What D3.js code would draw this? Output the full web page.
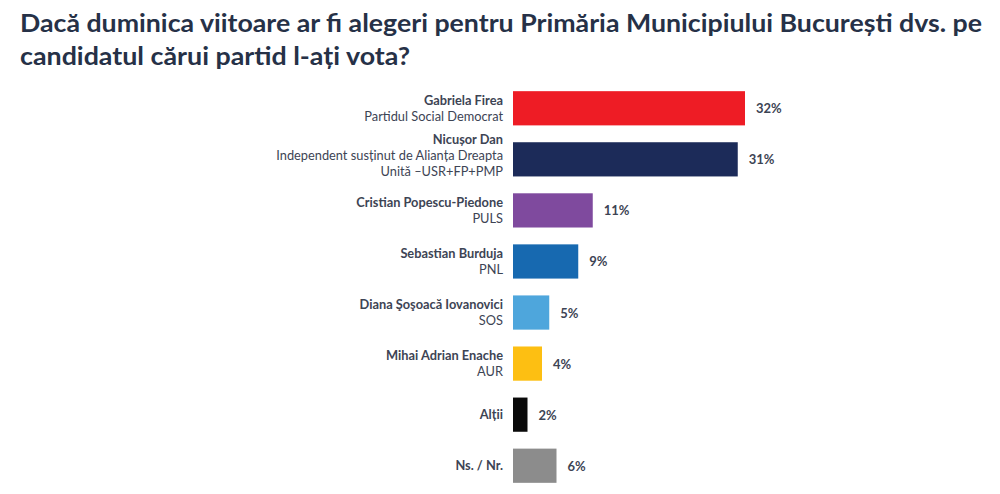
<!DOCTYPE html>
<html><head><meta charset="utf-8">
<script src="https://cdn.jsdelivr.net/npm/d3@7"></script>
<style>body{margin:0;background:#fff;font-family:Lato,sans-serif}</style>
</head><body><svg id="c" width="1000" height="494"></svg>
<script>
const names = ["Gabriela Firea","Nicușor Dan","Cristian Popescu-Piedone","Sebastian Burduja","Diana Şoşoacă Iovanovici","Mihai Adrian Enache","Alții","Ns. / Nr."];
const parties = [["Partidul Social Democrat"],["Independent susținut de Alianța Dreapta","Unită –USR+FP+PMP"],["PULS"],["PNL"],["SOS"],["AUR"],[],[]];
const values = [32,31,11,9,5,4,2,6];
const colors = ["#ee1c25","#1c2b59","#7f4a9e","#1769b0","#4ea6dc","#fdbf12","#0a0a0a","#8c8c8c"];

const svg = d3.select("#c");
const ink = "#3d4454";

svg.append("text").attr("x",20).attr("y",32).attr("fill","#263147")
  .attr("textLength",962).attr("lengthAdjust","spacingAndGlyphs")
  .style("font-weight",700).style("font-size","25px")
  .text("Dacă duminica viitoare ar fi alegeri pentru Primăria Municipiului București dvs. pe");
svg.append("text").attr("x",20).attr("y",65).attr("fill","#263147")
  .attr("textLength",390).attr("lengthAdjust","spacingAndGlyphs")
  .style("font-weight",700).style("font-size","25px")
  .text("candidatul cărui partid l-ați vota?");

const x = d3.scaleLinear().domain([0,32]).range([513,745]);
const y = d3.scaleBand().domain(d3.range(names.length)).range([83,491]).paddingInner(0.33).paddingOuter(0.16);

const g = svg.selectAll("g.row").data(names).join("g").attr("class","row");
g.append("rect").attr("x",x(0)).attr("y",(d,i)=>y(i))
  .attr("width",(d,i)=>x(values[i])-x(0)).attr("height",y.bandwidth())
  .attr("fill",(d,i)=>colors[i]);
g.append("text").attr("x",(d,i)=>x(values[i])+11).attr("y",(d,i)=>y(i)+y.bandwidth()/2+5)
  .attr("fill",ink).style("font-weight",700).style("font-size","13px")
  .text((d,i)=>values[i]+"%");
g.each(function(d,i){
  const lines = [d].concat(parties[i]);
  const cy = y(i)+y.bandwidth()/2 - (lines.length>2?4:0);
  const t = d3.select(this).append("text").attr("text-anchor","end").attr("fill",ink).style("font-size","12.8px");
  lines.forEach((l,k)=>{
    t.append("tspan").attr("x",503).attr("y",cy+(k-(lines.length-1)/2)*16+4.5)
      .style("font-weight",k===0?700:400).text(l);
  });
});
</script></body></html>
